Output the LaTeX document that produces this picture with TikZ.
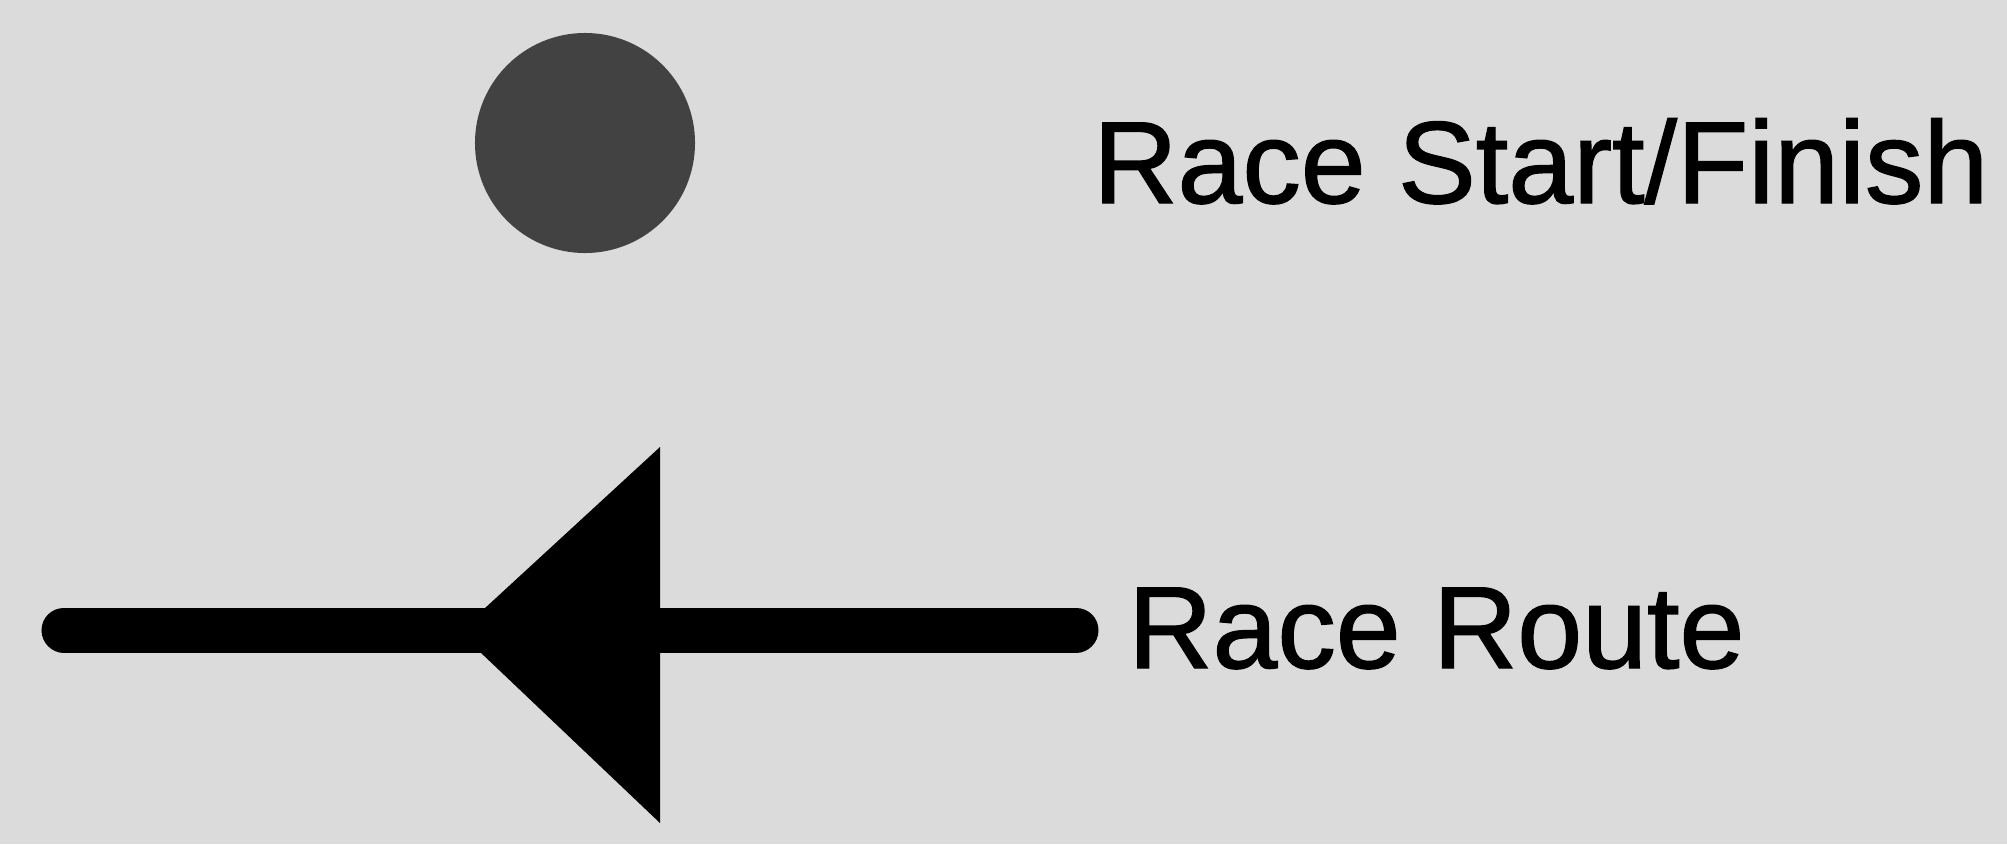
\documentclass[tikz,border=0pt]{standalone}
\usepackage{fontspec}
\setmainfont{Liberation Sans}
\newfontfamily\legendfont[FakeBold=1.2]{Liberation Sans}
\usepackage{tikz}
\usetikzlibrary{positioning}

\begin{document}
\begin{tikzpicture}[
  x=0.025cm, y=-0.025cm,
  legend/.style={font=\legendfont\fontsize{83pt}{90pt}\selectfont, inner sep=0pt, anchor=base west},
  startmark/.style={circle, fill=black!74, minimum size=5.5cm, inner sep=0pt},
  route/.style={line width=1.125cm, line cap=round},
  routearrow/.style={fill=black}
]
% background and frame size
\fill[black!14] (0,0) rectangle (2007,844);
\useasboundingbox (0,0) rectangle (2007,844);

% start / finish
\node[startmark] (start) at (585,143) {};
\node[legend] (startlbl) at (1093,203) {Race Start/Finish};

% route line with arrow
\coordinate (routeL) at (64,630);
\coordinate (routeR) at (1076,630);
\draw[route] (routeR) -- (routeL);
\fill[routearrow] (459,632) -- (660,447) -- (660,823) -- cycle;
\node[legend] (routelbl) at (1128,668) {Race Route};
\end{tikzpicture}
\end{document}
